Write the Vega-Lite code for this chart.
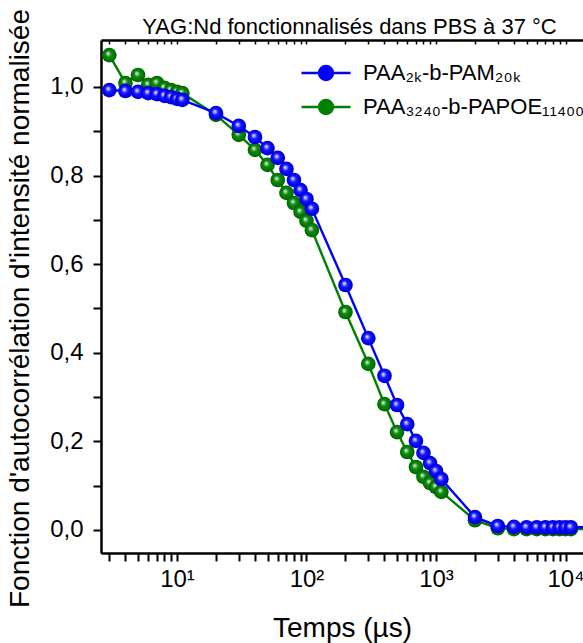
{
 "$schema": "https://vega.github.io/schema/vega-lite/v6.json",
 "width": 482, "height": 513,
 "autosize": "none",
 "padding": {"left": 101, "top": 40, "right": 0, "bottom": 90},
 "background": "white",
 "config": {"view": {"stroke": null}, "font": "Liberation Sans"},
 "data": {"values": [
  {"serie": "PAA₂ₖ-b-PAM₂₀ₖ", "t": 3, "g": 0.993},
  {"serie": "PAA₂ₖ-b-PAM₂₀ₖ", "t": 4, "g": 0.991},
  {"serie": "PAA₂ₖ-b-PAM₂₀ₖ", "t": 5, "g": 0.989},
  {"serie": "PAA₂ₖ-b-PAM₂₀ₖ", "t": 6, "g": 0.986},
  {"serie": "PAA₂ₖ-b-PAM₂₀ₖ", "t": 7, "g": 0.984},
  {"serie": "PAA₂ₖ-b-PAM₂₀ₖ", "t": 8, "g": 0.980},
  {"serie": "PAA₂ₖ-b-PAM₂₀ₖ", "t": 9, "g": 0.977},
  {"serie": "PAA₂ₖ-b-PAM₂₀ₖ", "t": 10, "g": 0.973},
  {"serie": "PAA₂ₖ-b-PAM₂₀ₖ", "t": 11, "g": 0.971},
  {"serie": "PAA₂ₖ-b-PAM₂₀ₖ", "t": 20, "g": 0.941},
  {"serie": "PAA₂ₖ-b-PAM₂₀ₖ", "t": 30, "g": 0.912},
  {"serie": "PAA₂ₖ-b-PAM₂₀ₖ", "t": 40, "g": 0.887},
  {"serie": "PAA₂ₖ-b-PAM₂₀ₖ", "t": 50, "g": 0.862},
  {"serie": "PAA₂ₖ-b-PAM₂₀ₖ", "t": 60, "g": 0.840},
  {"serie": "PAA₂ₖ-b-PAM₂₀ₖ", "t": 70, "g": 0.815},
  {"serie": "PAA₂ₖ-b-PAM₂₀ₖ", "t": 80, "g": 0.790},
  {"serie": "PAA₂ₖ-b-PAM₂₀ₖ", "t": 90, "g": 0.767},
  {"serie": "PAA₂ₖ-b-PAM₂₀ₖ", "t": 100, "g": 0.747},
  {"serie": "PAA₂ₖ-b-PAM₂₀ₖ", "t": 110, "g": 0.725},
  {"serie": "PAA₂ₖ-b-PAM₂₀ₖ", "t": 200, "g": 0.553},
  {"serie": "PAA₂ₖ-b-PAM₂₀ₖ", "t": 300, "g": 0.433},
  {"serie": "PAA₂ₖ-b-PAM₂₀ₖ", "t": 400, "g": 0.348},
  {"serie": "PAA₂ₖ-b-PAM₂₀ₖ", "t": 500, "g": 0.282},
  {"serie": "PAA₂ₖ-b-PAM₂₀ₖ", "t": 600, "g": 0.239},
  {"serie": "PAA₂ₖ-b-PAM₂₀ₖ", "t": 700, "g": 0.201},
  {"serie": "PAA₂ₖ-b-PAM₂₀ₖ", "t": 800, "g": 0.174},
  {"serie": "PAA₂ₖ-b-PAM₂₀ₖ", "t": 900, "g": 0.151},
  {"serie": "PAA₂ₖ-b-PAM₂₀ₖ", "t": 1000, "g": 0.133},
  {"serie": "PAA₂ₖ-b-PAM₂₀ₖ", "t": 1100, "g": 0.115},
  {"serie": "PAA₂ₖ-b-PAM₂₀ₖ", "t": 2000, "g": 0.029},
  {"serie": "PAA₂ₖ-b-PAM₂₀ₖ", "t": 3000, "g": 0.009},
  {"serie": "PAA₂ₖ-b-PAM₂₀ₖ", "t": 4000, "g": 0.007},
  {"serie": "PAA₂ₖ-b-PAM₂₀ₖ", "t": 5000, "g": 0.006},
  {"serie": "PAA₂ₖ-b-PAM₂₀ₖ", "t": 6000, "g": 0.006},
  {"serie": "PAA₂ₖ-b-PAM₂₀ₖ", "t": 7000, "g": 0.006},
  {"serie": "PAA₂ₖ-b-PAM₂₀ₖ", "t": 8000, "g": 0.006},
  {"serie": "PAA₂ₖ-b-PAM₂₀ₖ", "t": 9000, "g": 0.006},
  {"serie": "PAA₂ₖ-b-PAM₂₀ₖ", "t": 10000, "g": 0.006},
  {"serie": "PAA₂ₖ-b-PAM₂₀ₖ", "t": 11000, "g": 0.006},
  {"serie": "PAA₂ₖ-b-PAM₂₀ₖ", "t": 20000, "g": 0.006},
  {"serie": "PAA₃₂₄₀-b-PAPOE₁₁₄₀₀", "t": 3, "g": 1.072},
  {"serie": "PAA₃₂₄₀-b-PAPOE₁₁₄₀₀", "t": 4, "g": 1.009},
  {"serie": "PAA₃₂₄₀-b-PAPOE₁₁₄₀₀", "t": 5, "g": 1.027},
  {"serie": "PAA₃₂₄₀-b-PAPOE₁₁₄₀₀", "t": 6, "g": 1.005},
  {"serie": "PAA₃₂₄₀-b-PAPOE₁₁₄₀₀", "t": 7, "g": 1.009},
  {"serie": "PAA₃₂₄₀-b-PAPOE₁₁₄₀₀", "t": 8, "g": 0.998},
  {"serie": "PAA₃₂₄₀-b-PAPOE₁₁₄₀₀", "t": 9, "g": 0.993},
  {"serie": "PAA₃₂₄₀-b-PAPOE₁₁₄₀₀", "t": 10, "g": 0.989},
  {"serie": "PAA₃₂₄₀-b-PAPOE₁₁₄₀₀", "t": 11, "g": 0.986},
  {"serie": "PAA₃₂₄₀-b-PAPOE₁₁₄₀₀", "t": 20, "g": 0.937},
  {"serie": "PAA₃₂₄₀-b-PAPOE₁₁₄₀₀", "t": 30, "g": 0.892},
  {"serie": "PAA₃₂₄₀-b-PAPOE₁₁₄₀₀", "t": 40, "g": 0.858},
  {"serie": "PAA₃₂₄₀-b-PAPOE₁₁₄₀₀", "t": 50, "g": 0.824},
  {"serie": "PAA₃₂₄₀-b-PAPOE₁₁₄₀₀", "t": 60, "g": 0.790},
  {"serie": "PAA₃₂₄₀-b-PAPOE₁₁₄₀₀", "t": 70, "g": 0.761},
  {"serie": "PAA₃₂₄₀-b-PAPOE₁₁₄₀₀", "t": 80, "g": 0.738},
  {"serie": "PAA₃₂₄₀-b-PAPOE₁₁₄₀₀", "t": 90, "g": 0.718},
  {"serie": "PAA₃₂₄₀-b-PAPOE₁₁₄₀₀", "t": 100, "g": 0.698},
  {"serie": "PAA₃₂₄₀-b-PAPOE₁₁₄₀₀", "t": 110, "g": 0.677},
  {"serie": "PAA₃₂₄₀-b-PAPOE₁₁₄₀₀", "t": 200, "g": 0.492},
  {"serie": "PAA₃₂₄₀-b-PAPOE₁₁₄₀₀", "t": 300, "g": 0.375},
  {"serie": "PAA₃₂₄₀-b-PAPOE₁₁₄₀₀", "t": 400, "g": 0.284},
  {"serie": "PAA₃₂₄₀-b-PAPOE₁₁₄₀₀", "t": 500, "g": 0.221},
  {"serie": "PAA₃₂₄₀-b-PAPOE₁₁₄₀₀", "t": 600, "g": 0.176},
  {"serie": "PAA₃₂₄₀-b-PAPOE₁₁₄₀₀", "t": 700, "g": 0.142},
  {"serie": "PAA₃₂₄₀-b-PAPOE₁₁₄₀₀", "t": 800, "g": 0.120},
  {"serie": "PAA₃₂₄₀-b-PAPOE₁₁₄₀₀", "t": 900, "g": 0.106},
  {"serie": "PAA₃₂₄₀-b-PAPOE₁₁₄₀₀", "t": 1000, "g": 0.097},
  {"serie": "PAA₃₂₄₀-b-PAPOE₁₁₄₀₀", "t": 1100, "g": 0.086},
  {"serie": "PAA₃₂₄₀-b-PAPOE₁₁₄₀₀", "t": 2000, "g": 0.022},
  {"serie": "PAA₃₂₄₀-b-PAPOE₁₁₄₀₀", "t": 3000, "g": 0.004},
  {"serie": "PAA₃₂₄₀-b-PAPOE₁₁₄₀₀", "t": 4000, "g": 0.002},
  {"serie": "PAA₃₂₄₀-b-PAPOE₁₁₄₀₀", "t": 5000, "g": 0.002},
  {"serie": "PAA₃₂₄₀-b-PAPOE₁₁₄₀₀", "t": 6000, "g": 0.002},
  {"serie": "PAA₃₂₄₀-b-PAPOE₁₁₄₀₀", "t": 7000, "g": 0.002},
  {"serie": "PAA₃₂₄₀-b-PAPOE₁₁₄₀₀", "t": 8000, "g": 0.002},
  {"serie": "PAA₃₂₄₀-b-PAPOE₁₁₄₀₀", "t": 9000, "g": 0.002},
  {"serie": "PAA₃₂₄₀-b-PAPOE₁₁₄₀₀", "t": 10000, "g": 0.002},
  {"serie": "PAA₃₂₄₀-b-PAPOE₁₁₄₀₀", "t": 11000, "g": 0.002},
  {"serie": "PAA₃₂₄₀-b-PAPOE₁₁₄₀₀", "t": 20000, "g": 0.002}
 ]},
 "layer": [
  {
   "transform": [{"filter": {"field": "serie", "equal": "PAA₃₂₄₀-b-PAPOE₁₁₄₀₀"}}],
   "mark": {"type": "line", "strokeWidth": 2.4, "clip": true},
   "encoding": {
    "x": {"field": "t", "type": "quantitative",
      "scale": {"type": "log", "domain": [2.589, 13650], "nice": false},
      "axis": {"orient": "bottom", "values": [3,4,5,6,7,8,9,10,20,30,40,50,60,70,80,90,100,200,300,400,500,600,700,800,900,1000,2000,3000,4000,5000,6000,7000,8000,9000,10000],
        "labelExpr": "datum.value == 10 ? '10¹' : datum.value == 100 ? '10²' : datum.value == 1000 ? '10³' : datum.value == 10000 ? '10⁴' : ''",
        "labelFont": "Liberation Sans", "labelFontSize": 24, "labelColor": "black", "labelPadding": 6,
        "labelOverlap": false, "labelBound": false, "labelFlush": false,
        "tickSize": 8, "tickWidth": 2, "tickColor": "black", "domainColor": "black", "domainWidth": 2.5, "grid": false,
        "title": "Temps (µs)", "titleFont": "Liberation Sans", "titleFontSize": 28, "titleFontWeight": "normal", "titleColor": "black", "titleY": 83, "titleBaseline": "alphabetic",
        "encode": {"ticks": {"update": {"y2": {"signal": "indexof([10,100,1000,10000], datum.value) >= 0 ? 8 : 5"}}}}}},
    "y": {"field": "g", "type": "quantitative",
      "scale": {"domain": [-0.052, 1.106], "nice": false, "zero": false},
      "axis": {"orient": "left", "values": [0,0.1,0.2,0.3,0.4,0.5,0.6,0.7,0.8,0.9,1.0],
        "labelExpr": "round(datum.value*10) % 2 == 0 ? replace(format(datum.value, '.1f'), '.', ',') : ''",
        "labelFont": "Liberation Sans", "labelFontSize": 24, "labelColor": "black", "labelPadding": 10,
        "labelOverlap": false, "labelBound": false, "labelFlush": false,
        "tickSize": 8, "tickWidth": 2, "tickColor": "black", "domainColor": "black", "domainWidth": 2.5, "grid": false,
        "title": "Fonction d'autocorrélation d'intensité normalisée", "titleFont": "Liberation Sans", "titleFontSize": 28, "titleFontWeight": "normal", "titleColor": "black",
        "titleX": -81, "titleY": 268, "titleAngle": -90, "titleBaseline": "middle", "titleAlign": "center",
        "encode": {"ticks": {"update": {"x2": {"signal": "round(datum.value*10) % 2 == 0 ? -8 : -5"}}}}}},
    "color": {"field": "serie", "type": "nominal",
      "scale": {"domain": ["PAA₂ₖ-b-PAM₂₀ₖ", "PAA₃₂₄₀-b-PAPOE₁₁₄₀₀"], "range": ["#0000ff", "#008000"]},
      "legend": {"orient": "none", "legendX": 214, "legendY": 22, "title": null, "padding": 0,
        "symbolType": "M-3.5,0H3.5M1,0A1,1,0,1,1,-1,0A1,1,0,1,1,1,0Z", "symbolSize": 196, "symbolStrokeWidth": 2.4,
        "labelFont": "Liberation Sans", "labelFontSize": 22, "labelColor": "black", "labelOffset": 26, "labelLimit": 400, "rowPadding": 10,
        "labelExpr": "datum.value == 'PAA₂ₖ-b-PAM₂₀ₖ' ? '\u00a0' + datum.label : datum.label",
        "encode": {"symbols": {"update": {"fill": {"scale": "color", "field": "value"}, "stroke": {"scale": "color", "field": "value"}, "opacity": {"value": 1}}}}}}
   }
  },
  {
   "transform": [{"filter": {"field": "serie", "equal": "PAA₃₂₄₀-b-PAPOE₁₁₄₀₀"}}],
   "mark": {"type": "point", "shape": "circle", "filled": true, "size": 215, "clip": true, "opacity": 1, "strokeWidth": 0,
     "fill": {"gradient": "radial", "x1": 0.4, "y1": 0.38, "r1": 0, "x2": 0.5, "y2": 0.5, "r2": 0.5,
       "stops": [{"offset": 0, "color": "#f4fff4"}, {"offset": 0.15, "color": "#a8d0a8"}, {"offset": 0.42, "color": "#0e880e"}, {"offset": 0.8, "color": "#007800"}, {"offset": 1, "color": "#005c00"}]}},
   "encoding": {
    "x": {"field": "t", "type": "quantitative",
      "axis": {"orient": "top", "values": [3,4,5,6,7,8,9,10,20,30,40,50,60,70,80,90,100,200,300,400,500,600,700,800,900,1000,2000,3000,4000,5000,6000,7000,8000,9000,10000],
        "labels": false, "tickSize": -4, "tickWidth": 1.5, "tickColor": "black", "domainColor": "black", "domainWidth": 2.5, "grid": false,
        "title": "YAG:Nd fonctionnalisés dans PBS à 37 °C", "titleFont": "Liberation Sans", "titleFontSize": 22, "titleFontWeight": "normal", "titleColor": "black",
        "titleX": 248, "titleY": -7, "titleBaseline": "alphabetic", "titleAlign": "center"}},
    "y": {"field": "g", "type": "quantitative", "axis": null}
   }
  },
  {
   "transform": [{"filter": {"field": "serie", "equal": "PAA₂ₖ-b-PAM₂₀ₖ"}}],
   "mark": {"type": "line", "strokeWidth": 2.4, "clip": true},
   "encoding": {
    "x": {"field": "t", "type": "quantitative", "axis": null},
    "y": {"field": "g", "type": "quantitative", "axis": null},
    "color": {"field": "serie", "type": "nominal"}
   }
  },
  {
   "transform": [{"filter": {"field": "serie", "equal": "PAA₂ₖ-b-PAM₂₀ₖ"}}],
   "mark": {"type": "point", "shape": "circle", "filled": true, "size": 215, "clip": true, "opacity": 1, "strokeWidth": 0,
     "fill": {"gradient": "radial", "x1": 0.4, "y1": 0.38, "r1": 0, "x2": 0.5, "y2": 0.5, "r2": 0.5,
       "stops": [{"offset": 0, "color": "#f4f4ff"}, {"offset": 0.15, "color": "#b0b0ff"}, {"offset": 0.42, "color": "#1a1aff"}, {"offset": 0.8, "color": "#0000f0"}, {"offset": 1, "color": "#0000c8"}]}},
   "encoding": {
    "x": {"field": "t", "type": "quantitative", "axis": null},
    "y": {"field": "g", "type": "quantitative", "axis": null}
   }
  }
 ],
 "resolve": {"axis": {"x": "independent", "y": "independent"}}
}
